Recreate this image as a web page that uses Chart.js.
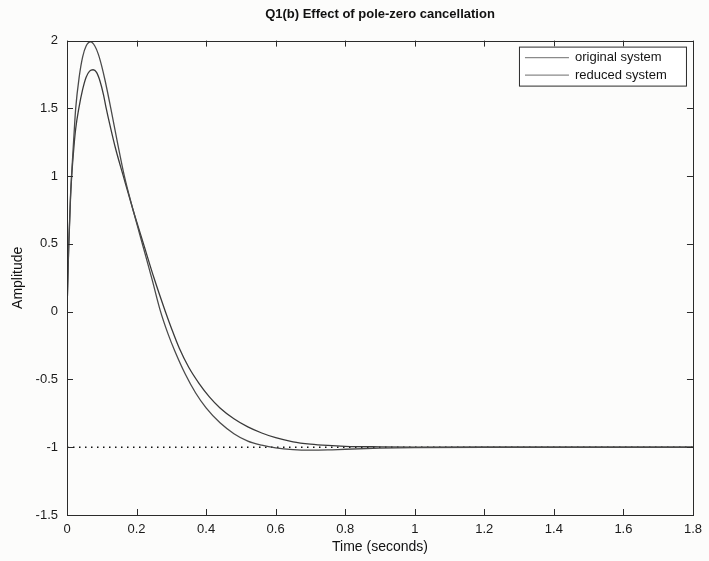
<!DOCTYPE html>
<html>
<head>
<meta charset="utf-8">
<script src="https://cdn.jsdelivr.net/npm/chart.js@4"></script>
<style>
  html, body { margin: 0; padding: 0; background: #fcfcfb; }
  #wrap { width: 709px; height: 561px; }
</style>
</head>
<body>
<div id="wrap"><canvas id="myChart" width="709" height="561"></canvas></div>
<script>
'use strict';

// step response of the original system (time in seconds, amplitude)
var originalTime = [0, 0.003, 0.005, 0.01, 0.013, 0.02, 0.025, 0.035, 0.045, 0.055, 0.068, 0.08, 0.09,
  0.1, 0.11, 0.126, 0.145, 0.165, 0.19, 0.22, 0.245, 0.268, 0.29, 0.31, 0.34, 0.37, 0.4, 0.44,
  0.48, 0.52, 0.56, 0.6, 0.65, 0.7, 0.75, 0.8, 0.9, 1.0, 1.2, 1.4, 1.6, 1.8];
var originalAmp = [0, 0.3, 0.5, 0.85, 1.0, 1.3, 1.5, 1.73, 1.88, 1.96, 1.99, 1.96, 1.9,
  1.81, 1.7, 1.5, 1.25, 1.0, 0.75, 0.47, 0.235, 0.01, -0.16, -0.29, -0.46, -0.6, -0.71, -0.82,
  -0.9, -0.955, -0.985, -1.005, -1.018, -1.022, -1.02, -1.015, -1.007, -1.003, -1.0, -1.0, -1.0, -1.0];

// step response of the reduced system
var reducedTime = [0, 0.003, 0.005, 0.01, 0.013, 0.02, 0.025, 0.034, 0.045, 0.055, 0.065, 0.075, 0.085,
  0.095, 0.105, 0.112, 0.125, 0.14, 0.162, 0.19, 0.22, 0.25, 0.283, 0.3, 0.323, 0.35, 0.38, 0.41,
  0.44, 0.48, 0.52, 0.56, 0.6, 0.65, 0.7, 0.75, 0.8, 0.9, 1.0, 1.2, 1.4, 1.6, 1.8];
var reducedAmp = [0, 0.3, 0.48, 0.83, 0.98, 1.22, 1.35, 1.5, 1.64, 1.73, 1.775, 1.785, 1.765,
  1.7, 1.6, 1.51, 1.36, 1.2, 1.0, 0.75, 0.5, 0.25, 0, -0.12, -0.27, -0.41, -0.53, -0.63,
  -0.71, -0.79, -0.85, -0.895, -0.93, -0.96, -0.977, -0.987, -0.993, -0.997, -0.999, -1.0, -1.0, -1.0, -1.0];

var seriesNames = ['original system', 'reduced system'];
var steadyValue = -1;

var xTicks = [0, 0.2, 0.4, 0.6, 0.8, 1, 1.2, 1.4, 1.6, 1.8];
var yTicks = [-1.5, -1, -0.5, 0, 0.5, 1, 1.5, 2];

function toPoints(xs, ys) {
  var pts = [];
  for (var i = 0; i < xs.length; i++) {
    pts.push({ x: xs[i], y: ys[i] });
  }
  return pts;
}

// box around the axes with inward ticks on all four sides
var boxPlugin = {
  id: 'boxPlugin',
  afterDraw: function(chart) {
    var ctx = chart.ctx;
    var a = chart.chartArea;
    var xs = chart.scales.x;
    var ys = chart.scales.y;
    var len = 6;
    ctx.save();
    ctx.strokeStyle = '#2b2b2b';
    ctx.lineWidth = 1;
    ctx.beginPath();
    for (var i = 0; i < xTicks.length; i++) {
      var px = Math.round(xs.getPixelForValue(xTicks[i])) + 0.5;
      ctx.moveTo(px, a.bottom); ctx.lineTo(px, a.bottom - len);
      ctx.moveTo(px, a.top); ctx.lineTo(px, a.top + len);
    }
    for (var j = 0; j < yTicks.length; j++) {
      var py = Math.round(ys.getPixelForValue(yTicks[j])) + 0.5;
      ctx.moveTo(a.left, py); ctx.lineTo(a.left + len, py);
      ctx.moveTo(a.right, py); ctx.lineTo(a.right - len, py);
    }
    ctx.stroke();
    ctx.strokeRect(Math.round(a.left) + 0.5, Math.round(a.top) + 0.5,
      Math.round(a.right - a.left), Math.round(a.bottom - a.top));
    ctx.restore();
  }
};

// MATLAB style legend box in the upper right corner
var legendBoxPlugin = {
  id: 'legendBoxPlugin',
  afterDraw: function(chart) {
    var ctx = chart.ctx;
    var a = chart.chartArea;
    var right = a.right - 7;
    var top = a.top + 6;
    var w = 167, h = 39;
    var left = right - w;
    ctx.save();
    ctx.fillStyle = '#ffffff';
    ctx.fillRect(left, top, w, h);
    ctx.strokeStyle = '#2b2b2b';
    ctx.lineWidth = 1;
    ctx.strokeRect(left + 0.5, top + 0.5, w, h);
    ctx.font = '13px "Liberation Sans", Arial, sans-serif';
    ctx.textBaseline = 'middle';
    for (var i = 0; i < 2; i++) {
      var ds = chart.data.datasets[i];
      var ly = top + 11 + i * 17.5;
      ctx.strokeStyle = '#8a8a8a';
      ctx.lineWidth = 1.2;
      ctx.beginPath();
      ctx.moveTo(left + 6, ly);
      ctx.lineTo(left + 50, ly);
      ctx.stroke();
      ctx.fillStyle = '#151515';
      ctx.fillText(ds.label, left + 56, ly);
    }
    ctx.restore();
  }
};

var ctx = document.getElementById('myChart').getContext('2d');
var chart = new Chart(ctx, {
  type: 'line',
  data: {
    datasets: [
      {
        label: seriesNames[0],
        data: toPoints(originalTime, originalAmp),
        borderColor: '#4a4a4a',
        borderWidth: 1.3,
        pointRadius: 0,
        cubicInterpolationMode: 'monotone'
      },
      {
        label: seriesNames[1],
        data: toPoints(reducedTime, reducedAmp),
        borderColor: '#3a3a3a',
        borderWidth: 1.3,
        pointRadius: 0,
        cubicInterpolationMode: 'monotone'
      },
      {
        label: 'steady state',
        data: toPoints([xTicks[0], xTicks[xTicks.length - 1]], [steadyValue, steadyValue]),
        borderColor: '#111111',
        borderWidth: 1.6,
        borderDash: [1.5, 4.5],
        pointRadius: 0
      }
    ]
  },
  plugins: [boxPlugin, legendBoxPlugin],
  options: {
    responsive: false,
    animation: false,
    layout: { padding: { left: 0, right: 14, top: 0, bottom: 0 } },
    plugins: {
      legend: { display: false },
      tooltip: { enabled: false },
      title: {
        display: true,
        fullSize: false,
        text: 'Q1(b) Effect of pole-zero cancellation',
        color: '#111',
        font: { family: '"Liberation Sans", Arial, sans-serif', size: 13, weight: 'bold' },
        padding: { top: 7, bottom: 18 }
      }
    },
    scales: {
      x: {
        type: 'linear',
        min: 0,
        max: 1.8,
        afterBuildTicks: function(scale) {
          scale.ticks = xTicks.map(function(v) { return { value: v }; });
        },
        afterFit: function(scale) { scale.height = 46; },
        grid: { display: false, drawTicks: false },
        border: { display: false },
        ticks: {
          color: '#1a1a1a',
          padding: 7,
          maxRotation: 0,
          font: { family: '"Liberation Sans", Arial, sans-serif', size: 13 },
          callback: function(v) { return String(v); }
        },
        title: {
          display: true,
          text: 'Time (seconds)',
          color: '#111',
          font: { family: '"Liberation Sans", Arial, sans-serif', size: 14 },
          padding: { top: 0, bottom: 5 }
        }
      },
      y: {
        type: 'linear',
        min: -1.5,
        max: 2,
        afterBuildTicks: function(scale) {
          scale.ticks = yTicks.map(function(v) { return { value: v }; });
        },
        afterFit: function(scale) { scale.width = 67; },
        grid: { display: false, drawTicks: false },
        border: { display: false },
        ticks: {
          color: '#1a1a1a',
          padding: 9,
          font: { family: '"Liberation Sans", Arial, sans-serif', size: 13 },
          callback: function(v) { return String(v); }
        },
        title: {
          display: true,
          text: 'Amplitude',
          color: '#111',
          font: { family: '"Liberation Sans", Arial, sans-serif', size: 14 },
          padding: { top: 10, bottom: 0 }
        }
      }
    }
  }
});
</script>
</body>
</html>
